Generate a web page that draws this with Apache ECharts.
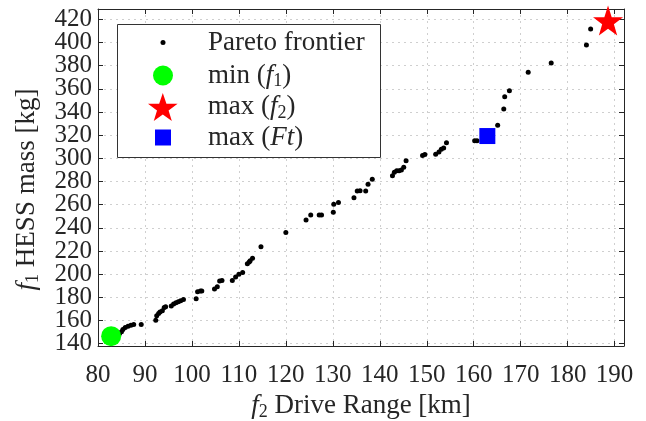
<!DOCTYPE html>
<html><head><meta charset="utf-8">
<script src="https://cdn.jsdelivr.net/npm/echarts@6/dist/echarts.min.js"></script>
<style>html,body{margin:0;padding:0;background:#fff}#c{width:646px;height:421px}</style>
</head><body><div id="c"></div>
<script>
const paretoX = [84.6, 85.0, 85.3, 85.8, 86.4, 87.0, 87.6, 89.2, 92.3, 92.5, 92.9, 93.2, 93.7, 94.1, 94.4, 95.6, 96.1, 96.6, 97.1, 97.6, 98.2, 100.9, 101.2, 101.8, 102.1, 104.8, 105.4, 105.9, 106.4, 108.6, 109.3, 110.0, 110.8, 111.8, 112.2, 112.4, 112.9, 114.7, 120.0, 124.3, 125.3, 127.1, 127.6, 130.1, 130.2, 131.2, 134.5, 135.2, 135.8, 137.0, 137.5, 138.4, 142.7, 143.1, 143.6, 144.1, 144.6, 145.1, 145.6, 149.1, 149.6, 151.9, 152.6, 153.1, 153.6, 154.2, 160.2, 160.7, 165.1, 166.4, 166.6, 167.6, 171.6, 176.5, 184.0, 184.9];
const paretoY = [148.8, 150.2, 152.3, 154.0, 155.1, 156.0, 156.6, 156.6, 160.3, 164.2, 166.0, 167.3, 168.4, 171.3, 171.9, 172.5, 174.2, 175.3, 176.2, 177.0, 178.2, 178.8, 184.8, 185.4, 185.4, 187.2, 189.2, 194.1, 194.5, 194.5, 197.5, 200.0, 201.5, 209.0, 210.5, 211.7, 213.7, 223.8, 235.9, 246.9, 251.2, 251.2, 251.2, 253.4, 260.3, 262.0, 266.0, 271.8, 272.1, 271.8, 277.6, 281.9, 285.0, 288.0, 289.4, 289.4, 290.0, 292.3, 298.0, 302.5, 303.3, 303.5, 305.5, 307.8, 309.0, 313.6, 315.3, 315.3, 328.6, 342.7, 353.3, 358.5, 374.4, 382.4, 398.0, 411.8];
const minF1 = [82.8, 146.5];
const maxF2 = [188.6, 419.0];
const maxFt = [162.9, 319.3];
const xRange = [80, 192];
const yRange = [138, 429];
const xTicks = [80, 90, 100, 110, 120, 130, 140, 150, 160, 170, 180, 190];
const yTicks = [140, 160, 180, 200, 220, 240, 260, 280, 300, 320, 340, 360, 380, 400, 420];
const seriesNames = ['Pareto frontier', 'min (f1)', 'max (f2)', 'max (Ft)'];
const legendLabels = ['{r|Pareto frontier}', '{r|min (}{i|f}{s|1}{r|)}', '{r|max (}{i|f}{s|2}{r|)}', '{r|max (}{i|Ft}{r|)}'];
const xTitle = '{i|f}{s|2}{r| Drive Range [km]}';
const yTitle = '{i|f}{s|1}{r| HESS mass [kg]}';

const FONT = 'Liberation Serif';
const TXT = '#262626';
const starPath = 'path://M50,0 L61.8,35.1 L98.1,35.1 L68.8,56.7 L79.4,91 L50,70 L20.6,91 L31.2,56.7 L1.9,35.1 L38.2,35.1 Z';
const rich = {
  r: {fontFamily: FONT, fontSize: 27, color: TXT, lineHeight: 30},
  i: {fontFamily: FONT, fontSize: 27, color: TXT, fontStyle: 'italic', lineHeight: 30},
  s: {fontFamily: FONT, fontSize: 18, color: TXT, lineHeight: 16, verticalAlign: 'bottom'}
};

const grid = {left: 98, right: 22, top: 9, bottom: 75, containLabel: false, outerBoundsMode: 'none'};
const axisLine = {show: true, onZero: false, lineStyle: {color: TXT, width: 1}};
const splitLine = {show: true, lineStyle: {color: '#cfcfcf', type: [2, 4], width: 1}};

// label value lists padded with the axis extents; the padded end labels are hidden
const xLabelValues = xTicks.concat([xRange[1]]);
const yLabelValues = [yRange[0]].concat(yTicks, [yRange[1]]);

const chart = echarts.init(document.getElementById('c'), null, {renderer: 'canvas'});
const icons = ['circle', 'circle', starPath, 'rect'];
const iconSizes = [[5, 5], [20, 20], [30, 28], [16, 16]];
const rows = [44, 77, 108, 139];

chart.setOption({
  animation: false,
  backgroundColor: '#fff',
  grid: grid,
  xAxis: [{
    type: 'value', min: xRange[0], max: xRange[1], position: 'bottom',
    axisLine: axisLine,
    axisTick: {show: true, inside: true, length: 5, lineStyle: {color: TXT}, customValues: xTicks},
    axisLabel: {customValues: xLabelValues, fontFamily: FONT, fontSize: 25, color: TXT, margin: 17,
      showMinLabel: true, showMaxLabel: false, hideOverlap: false},
    splitLine: splitLine,
    name: xTitle, nameLocation: 'middle', nameGap: 45,
    nameTextStyle: {rich: rich}
  }, {
    type: 'value', min: xRange[0], max: xRange[1], position: 'top',
    axisLine: axisLine,
    axisTick: {show: true, inside: true, length: 5, lineStyle: {color: TXT}, customValues: xTicks},
    axisLabel: {show: false}, splitLine: {show: false}
  }],
  yAxis: [{
    type: 'value', min: yRange[0], max: yRange[1], position: 'left',
    axisLine: axisLine,
    axisTick: {show: true, inside: true, length: 5, lineStyle: {color: TXT}, customValues: yTicks},
    axisLabel: {customValues: yLabelValues, fontFamily: FONT, fontSize: 25, color: TXT, margin: 6,
      showMinLabel: false, showMaxLabel: false, hideOverlap: false},
    splitLine: splitLine,
    name: yTitle, nameLocation: 'middle', nameGap: 56, nameRotate: 90,
    nameTextStyle: {rich: rich, padding: [0, 24, 0, 0]}
  }, {
    type: 'value', min: yRange[0], max: yRange[1], position: 'right',
    axisLine: axisLine,
    axisTick: {show: true, inside: true, length: 5, lineStyle: {color: TXT}, customValues: yTicks},
    axisLabel: {show: false}, splitLine: {show: false}
  }],
  graphic: [{
    type: 'rect', z: 3,
    shape: {x: 117.5, y: 24.5, width: 263, height: 133},
    style: {fill: '#fff', stroke: '#333', lineWidth: 1}
  }],
  legend: seriesNames.map((n, k) => ({
    data: [{name: n, icon: icons[k]}],
    left: 163 - iconSizes[k][0] / 2,
    top: rows[k] - 15,
    padding: 0,
    itemWidth: iconSizes[k][0],
    itemHeight: iconSizes[k][1],
    selectedMode: false,
    z: 5,
    formatter: () => legendLabels[k],
    textStyle: {rich: rich, padding: [0, 0, 0, 40 - iconSizes[k][0] / 2]}
  })),
  series: [{
    name: seriesNames[0], type: 'scatter', symbol: 'circle', symbolSize: 5,
    itemStyle: {color: '#000', opacity: 1},
    data: paretoX.map((x, i) => [x, paretoY[i]])
  }, {
    name: seriesNames[1], type: 'scatter', symbol: 'circle', symbolSize: 20,
    itemStyle: {color: '#00ff00', opacity: 1}, data: [minF1]
  }, {
    name: seriesNames[2], type: 'scatter', symbol: starPath, symbolSize: 30,
    itemStyle: {color: '#ff0000', opacity: 1}, data: [maxF2]
  }, {
    name: seriesNames[3], type: 'scatter', symbol: 'rect', symbolSize: 16,
    itemStyle: {color: '#0000ff', opacity: 1}, data: [maxFt]
  }]
});
</script>
</body></html>
